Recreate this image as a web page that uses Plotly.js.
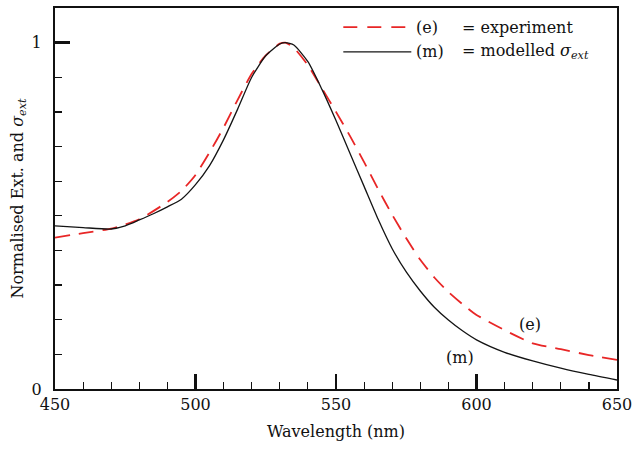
<!DOCTYPE html>
<html>
<head>
<meta charset="utf-8">
<script src="https://cdn.plot.ly/plotly-3.0.1.min.js"></script>
<style>html,body{margin:0;padding:0;background:#fff;}#chart{width:634px;height:450px;}</style>
</head>
<body>
<div id="chart"></div>
<script>
// Experiment (e)
var expWavelength = [450, 460, 470, 480, 490, 495, 500, 505, 510, 515, 520, 525, 530, 532, 535, 540, 545, 550, 555, 560, 565, 570, 575, 580, 585, 590, 595, 600, 610, 620, 630, 640, 650];
var expValue      = [0.437, 0.450, 0.463, 0.490, 0.540, 0.572, 0.618, 0.683, 0.755, 0.835, 0.910, 0.963, 0.997, 1.000, 0.985, 0.935, 0.868, 0.800, 0.730, 0.655, 0.577, 0.503, 0.435, 0.373, 0.322, 0.280, 0.245, 0.214, 0.170, 0.132, 0.115, 0.098, 0.084];

// Modelled sigma_ext (m)
var modWavelength = [450, 460, 470, 475, 480, 485, 490, 495, 500, 505, 510, 515, 520, 525, 530, 532, 535, 540, 545, 550, 555, 560, 565, 570, 575, 580, 585, 590, 595, 600, 610, 620, 630, 640, 650];
var modValue      = [0.471, 0.466, 0.462, 0.471, 0.488, 0.506, 0.526, 0.548, 0.590, 0.645, 0.720, 0.808, 0.900, 0.962, 0.996, 1.000, 0.993, 0.945, 0.865, 0.775, 0.680, 0.585, 0.490, 0.405, 0.338, 0.283, 0.236, 0.199, 0.168, 0.142, 0.106, 0.081, 0.060, 0.042, 0.026];

var xTickVals = [450, 500, 550, 600, 650];
var xTickText = ['450', '500', '550', '600', '650'];
var yTickVals = [0, 1];
var yTickText = ['0', '1'];

var legendLabels = ['(e)', '(m)'];
var legendDescs = ['= experiment', '= modelled <i>σ<sub>ext</sub></i>'];
var curveLabels = ['(e)', '(m)'];
var curveLabelX = [619, 594];
var curveLabelY = [0.187, 0.092];

var serif = 'DejaVu Serif, serif';
var red = 'rgb(232,38,38)';
var blk = 'rgb(20,20,20)';
var fs = 16;

var traces = [
  {x: expWavelength, y: expValue, type: 'scatter', mode: 'lines', name: 'experiment',
   line: {color: red, width: 1.8, dash: '15px,9px', shape: 'spline', smoothing: 0.6}},
  {x: modWavelength, y: modValue, type: 'scatter', mode: 'lines', name: 'modelled',
   line: {color: blk, width: 1.3, shape: 'spline', smoothing: 0.6}}
];

var annotations = [];
var shapes = [];
var rowY = [0.950, 0.885];
var colors = [red, blk];
for (var i = 0; i < 2; i++) {
  shapes.push({type: 'line', xref: 'paper', yref: 'paper', x0: 0.513, x1: 0.634, y0: rowY[i], y1: rowY[i],
    line: {color: colors[i], width: i === 0 ? 1.8 : 1.3, dash: i === 0 ? '14px,10px' : 'solid'}});
  annotations.push({xref: 'paper', yref: 'paper', x: 0.638, y: rowY[i], xanchor: 'left', yanchor: 'middle',
    text: legendLabels[i], showarrow: false, font: {family: serif, size: fs, color: '#111'}});
  annotations.push({xref: 'paper', yref: 'paper', x: 0.72, y: rowY[i], xanchor: 'left', yanchor: 'middle',
    text: legendDescs[i], showarrow: false, font: {family: serif, size: fs, color: '#111'}});
  annotations.push({xref: 'x', yref: 'y', x: curveLabelX[i], y: curveLabelY[i], xanchor: 'center', yanchor: 'middle',
    text: curveLabels[i], showarrow: false, font: {family: serif, size: fs, color: '#111'}});
}

var layout = {
  width: 634, height: 450,
  margin: {l: 55, r: 17, t: 8, b: 61},
  paper_bgcolor: '#fff', plot_bgcolor: '#fff',
  showlegend: false,
  font: {family: serif, size: fs, color: '#111'},
  xaxis: {
    range: [450, 650], showgrid: false, zeroline: false,
    showline: true, mirror: true, linecolor: '#111', linewidth: 2.2,
    ticks: 'inside', ticklen: 15, tickwidth: 2.5, tickcolor: '#111',
    tickvals: xTickVals, ticktext: xTickText,
    minor: {dtick: 10, tick0: 450, ticks: 'inside', ticklen: 7, tickwidth: 1.2, tickcolor: '#111', showgrid: false},
    tickfont: {family: serif, size: fs, color: '#111'},
    title: {text: 'Wavelength (nm)', font: {family: serif, size: fs, color: '#111'}, standoff: 12}
  },
  yaxis: {
    range: [0, 1.1], showgrid: false, zeroline: false,
    showline: true, mirror: true, linecolor: '#111', linewidth: 2.2,
    ticks: 'inside', ticklen: 15, tickwidth: 2.5, tickcolor: '#111',
    tickvals: yTickVals, ticktext: yTickText,
    minor: {dtick: 0.1, tick0: 0, ticks: 'inside', ticklen: 7, tickwidth: 1.2, tickcolor: '#111', showgrid: false},
    tickfont: {family: serif, size: fs, color: '#111'},
    ticklabelstandoff: 8,
    title: {text: 'Normalised Ext. and <i>σ<sub>ext</sub></i>', font: {family: serif, size: fs, color: '#111'}, standoff: 4}
  },
  shapes: shapes,
  annotations: annotations
};

Plotly.newPlot('chart', traces, layout, {displayModeBar: false, staticPlot: true});
</script>
</body>
</html>
